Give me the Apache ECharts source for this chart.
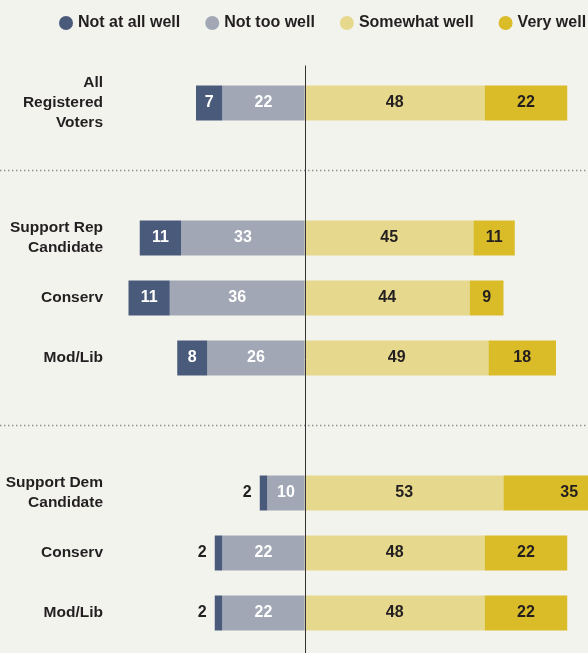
<!DOCTYPE html>
<html>
<head>
<meta charset="utf-8">
<script src="https://cdn.jsdelivr.net/npm/echarts@6/dist/echarts.min.js"></script>
<style>
  html, body { margin: 0; padding: 0; background: #f3f3ee; }
  #chart { width: 588px; height: 653px; }
</style>
</head>
<body>
<div id="chart"></div>
<script>
// Survey groups (top to bottom)
const categories = [
  'All\nRegistered\nVoters',
  'Support Rep\nCandidate',
  'Conserv',
  'Mod/Lib',
  'Support Dem\nCandidate',
  'Conserv',
  'Mod/Lib'
];
const seriesNames = ['Not at all well', 'Not too well', 'Somewhat well', 'Very well'];
const notAtAllWell = [7, 11, 11, 8, 2, 2, 2];
const notTooWell   = [22, 33, 36, 26, 10, 22, 22];
const somewhatWell = [48, 45, 44, 49, 53, 48, 48];
const veryWell     = [22, 11, 9, 18, 35, 22, 22];

// Row placement on a fine band grid (blank bands make the group gaps)
const SLOT_COUNT = 40;
const rowSlot = [2, 11, 15, 19, 28, 32, 36];
const dividerAfterSlot = [6, 23];

const FONT = "'Liberation Sans', Arial, sans-serif";
const DARK_TEXT = '#231f20';
const colors = {
  'Not at all well': '#4a5a7b',
  'Not too well': '#a1a7b4',
  'Somewhat well': '#e6d88c',
  'Very well': '#d9bc27'
};

const slotLabels = new Array(SLOT_COUNT).fill('');
rowSlot.forEach((s, i) => { slotLabels[s] = categories[i]; });

function toSlots(values, sign, smallOutside) {
  const out = new Array(SLOT_COUNT).fill('-');
  values.forEach((v, i) => {
    const item = { value: sign * v };
    if (smallOutside && v <= 3) {
      item.label = { position: 'left', color: DARK_TEXT, distance: 8 };
    }
    out[rowSlot[i]] = item;
  });
  return out;
}

function barSeries(name, values, sign, labelColor, smallOutside) {
  return {
    name: name,
    type: 'bar',
    stack: 'total',
    barWidth: 35,
    clip: false,
    itemStyle: { color: colors[name] },
    label: {
      show: true,
      position: 'inside',
      color: labelColor,
      fontFamily: FONT,
      fontWeight: 'bold',
      fontSize: 16,
      formatter: p => Math.abs(p.value)
    },
    emphasis: { disabled: true },
    data: toSlots(values, sign, smallOutside)
  };
}

const chart = echarts.init(document.getElementById('chart'), null, { renderer: 'canvas' });

const series = [
  barSeries('Not too well', notTooWell, -1, '#ffffff', false),
  barSeries('Not at all well', notAtAllWell, -1, '#ffffff', true),
  barSeries('Somewhat well', somewhatWell, 1, DARK_TEXT, false),
  barSeries('Very well', veryWell, 1, DARK_TEXT, false)
];
// zero line through the middle of the chart
series[3].markLine = {
  silent: true,
  symbol: 'none',
  label: { show: false },
  lineStyle: { color: '#333333', width: 1, type: 'solid' },
  data: [{ xAxis: 0 }]
};

chart.setOption({
  backgroundColor: '#f3f3ee',
  animation: false,
  legend: {
    data: seriesNames,
    left: 54,
    top: 10,
    width: 620,
    icon: 'circle',
    itemWidth: 14,
    itemHeight: 14,
    itemGap: 25,
    textStyle: { fontFamily: FONT, fontWeight: 'bold', fontSize: 16, color: DARK_TEXT }
  },
  // the plot runs past the right and bottom edges of the page
  grid: {
    left: 106, top: 65.5, width: 555, height: 600,
    outerBoundsMode: 'none',
    containLabel: false
  },
  xAxis: {
    type: 'value',
    min: -53,
    max: 95,
    show: false
  },
  yAxis: {
    type: 'category',
    inverse: true,
    data: slotLabels,
    axisLine: { show: false },
    axisTick: { show: false },
    splitLine: { show: false },
    axisLabel: {
      interval: 0,
      margin: 3,
      fontFamily: FONT,
      fontWeight: 'bold',
      fontSize: 15.5,
      lineHeight: 20,
      color: DARK_TEXT,
      align: 'right'
    }
  },
  series: series
});

// dotted dividers between the voter groups, full page width
const dividers = dividerAfterSlot.map(s => {
  const y = (chart.convertToPixel({ yAxisIndex: 0 }, s) + chart.convertToPixel({ yAxisIndex: 0 }, s + 1)) / 2;
  return {
    type: 'line',
    silent: true,
    shape: { x1: 0, y1: y, x2: chart.getWidth(), y2: y },
    style: { stroke: '#8c8c8c', lineWidth: 1.4, lineDash: [1.4, 2.6] }
  };
});
chart.setOption({ graphic: dividers });
</script>
</body>
</html>
